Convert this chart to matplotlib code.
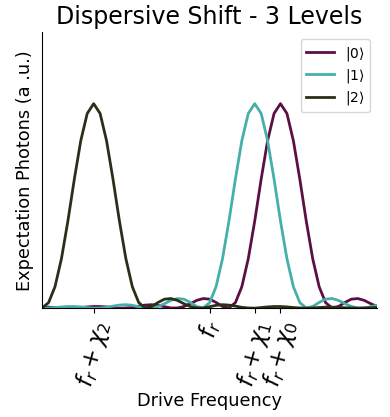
# Dispersive shift of the readout resonator for a 3-level transmon
import matplotlib
matplotlib.use("Agg")
import matplotlib.pyplot as plt

# Drive frequency sweep (arbitrary units, 53 points)
drive_freq = [0, 1, 2, 3, 4, 5, 6, 7, 8, 9, 10, 11, 12, 13, 14, 15, 16, 17,
              18, 19, 20, 21, 22, 23, 24, 25, 26, 27, 28, 29, 30, 31, 32, 33,
              34, 35, 36, 37, 38, 39, 40, 41, 42, 43, 44, 45, 46, 47, 48, 49,
              50, 51, 52]

# Photon expectation values for each qubit state
photons_0 = [0.005, 0.005, 0.003, 0.001, 0.000, 0.001, 0.003, 0.006, 0.008,
             0.008, 0.006, 0.003, 0.000, 0.001, 0.004, 0.010, 0.015, 0.017,
             0.014, 0.007, 0.001, 0.001, 0.008, 0.022, 0.038, 0.047, 0.044,
             0.028, 0.008, 0.001, 0.027, 0.105, 0.242, 0.426, 0.631, 0.819,
             0.952, 1.000, 0.952, 0.819, 0.631, 0.426, 0.242, 0.105, 0.027,
             0.001, 0.008, 0.028, 0.044, 0.047, 0.038, 0.022, 0.008]
photons_1 = [0.000, 0.001, 0.003, 0.006, 0.008, 0.008, 0.006, 0.003, 0.000,
             0.001, 0.004, 0.010, 0.015, 0.017, 0.014, 0.007, 0.001, 0.001,
             0.008, 0.022, 0.038, 0.047, 0.044, 0.028, 0.008, 0.001, 0.027,
             0.105, 0.242, 0.426, 0.631, 0.819, 0.952, 1.000, 0.952, 0.819,
             0.631, 0.426, 0.242, 0.105, 0.027, 0.001, 0.008, 0.028, 0.044,
             0.047, 0.038, 0.022, 0.008, 0.001, 0.001, 0.007, 0.014]
photons_2 = [0.001, 0.027, 0.105, 0.242, 0.426, 0.631, 0.819, 0.952, 1.000,
             0.952, 0.819, 0.631, 0.426, 0.242, 0.105, 0.027, 0.001, 0.008,
             0.028, 0.044, 0.047, 0.038, 0.022, 0.008, 0.001, 0.001, 0.007,
             0.014, 0.017, 0.015, 0.010, 0.004, 0.001, 0.000, 0.003, 0.006,
             0.008, 0.008, 0.006, 0.003, 0.001, 0.000, 0.001, 0.003, 0.005,
             0.005, 0.004, 0.002, 0.001, 0.000, 0.001, 0.002, 0.003]

# Resonator frequency and shifted frequencies (tick positions)
tick_pos = [8, 26, 33, 37]
tick_labels = [r"$f_r + \chi_2$", r"$f_r$", r"$f_r + \chi_1$", r"$f_r + \chi_0$"]

fig = plt.figure(figsize=(3.9, 4.17), dpi=100)
ax = fig.add_axes([0.108, 0.261, 0.859, 0.662])

ax.plot(drive_freq, photons_0, color="#5c0f45", lw=2, label=r"$|0\rangle$")
ax.plot(drive_freq, photons_1, color="#47afa9", lw=2, label=r"$|1\rangle$")
ax.plot(drive_freq, photons_2, color="#283117", lw=2, label=r"$|2\rangle$")

ax.set_xlim(drive_freq[0], drive_freq[-1])
ax.set_ylim(0, 1.35)
ax.set_yticks([])
ax.set_xticks(tick_pos)
ax.set_xticklabels(tick_labels, fontsize=16.5, rotation=75)
ax.spines["top"].set_visible(False)
ax.spines["right"].set_visible(False)

ax.set_title("Dispersive Shift - 3 Levels", fontsize=17)
ax.set_xlabel("Drive Frequency", fontsize=12.8, labelpad=1)
ax.set_ylabel("Expectation Photons (a .u.)", fontsize=12.8, labelpad=6)
ax.legend(loc="upper right", fontsize=10, labelspacing=0.3)

fig.savefig("out.png", dpi=100)
